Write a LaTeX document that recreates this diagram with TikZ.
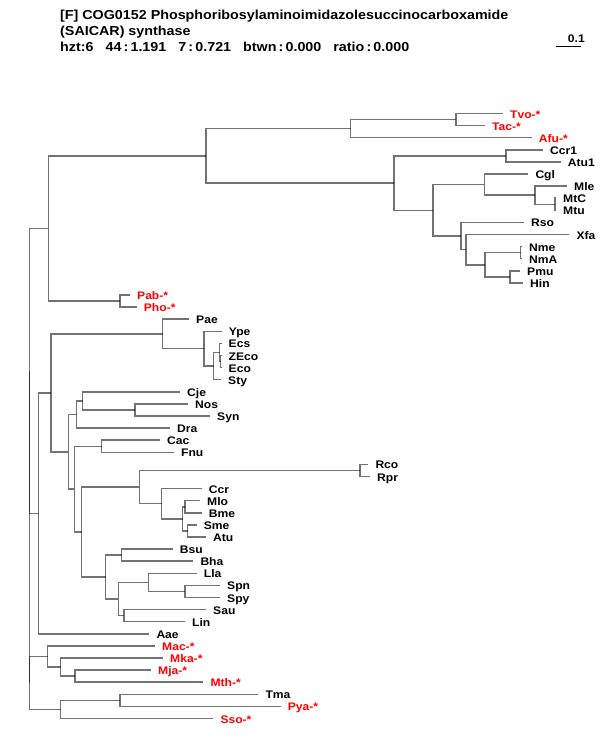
\documentclass[tikz,border=0pt]{standalone}
\usepackage{fontspec}
\setmainfont{Liberation Sans}
\newfontfamily\treefont[FakeStretch=1.1]{Liberation Sans}
\usepackage{xcolor}
\usepackage{tikz}
\usetikzlibrary{
	positioning,						% Relative positioning
	calc								% Midpoints of the clades
}
\definecolor{archaea}{rgb}{1.0, 0.0, 0.0}

% Inner node of the tree: name, x position, upper child, lower child
\newcommand{\clade}[4]{
	\coordinate (mid#1) at ($(#3)!0.5!(#4)$);
	\coordinate (#1) at (#2,0 |- mid#1);
	\draw[branch] (#1) |- (#3);
	\draw[branch] (#1) |- (#4);
}

\begin{document}
\begin{tikzpicture}[x=1pt, y=-1pt]
		\tikzstyle{branch} = [draw=black, draw opacity=0.55, line width=1.5pt]
		\tikzstyle{taxon} = [font=\treefont\bfseries\fontsize{11}{13}\selectfont, inner sep=0pt, anchor=base west]
		\tikzstyle{header} = [font=\treefont\bfseries\fontsize{13}{15}\selectfont, inner sep=0pt, anchor=base west]
		
		\useasboundingbox (0,0) rectangle (600,750);
		
		% Header
		\node[header] at (60,19) (titleOne) {[F] COG0152 Phosphoribosylaminoimidazolesuccinocarboxamide};
		\node[header] at (60,35) (titleTwo) {(SAICAR) synthase};
		\node[header] at (60,51) (titleThree) {hzt:6\hspace{12pt}44\,:\,1.191\hspace{12pt}7\,:\,0.721\hspace{12pt}btwn\,:\,0.000\hspace{12pt}ratio\,:\,0.000};
		%% Scale bar
		\coordinate (scaleLeft) at (556,46);
		\coordinate (scaleRight) at (581,46);
		\draw[line width=1pt] (scaleLeft) -- (scaleRight);
		\node[taxon, anchor=base east] at (585,42) (scaleLabel) {0.1};
		
		% Leaves
		%% Tips and labels
		\foreach \idx/\taxName/\taxLabel/\tipX/\taxCol in {
			0/Tvo/Tvo-*/503/archaea, 1/Tac/Tac-*/485/archaea, 2/Afu/Afu-*/531.7/archaea,
			3/Ccr1/Ccr1/543/black, 4/Atu1/Atu1/560.7/black, 5/Cgl/Cgl/528.3/black,
			6/Mle/Mle/567/black, 7/MtC/MtC/556/black, 8/Mtu/Mtu/556/black,
			9/Rso/Rso/524/black, 10/Xfa/Xfa/569.3/black, 11/Nme/Nme/522/black,
			12/NmA/NmA/522/black, 13/Pmu/Pmu/520/black, 14/Hin/Hin/523/black,
			15/Pab/Pab-*/130/archaea, 16/Pho/Pho-*/136.7/archaea, 17/Pae/Pae/189/black,
			18/Ype/Ype/221.7/black, 19/Ecs/Ecs/221.5/black, 20/ZEco/ZEco/221.5/black,
			21/Eco/Eco/221.5/black, 22/Sty/Sty/221/black, 23/Cje/Cje/180/black,
			24/Nos/Nos/188/black, 25/Syn/Syn/210/black, 26/Dra/Dra/170/black,
			27/Cac/Cac/160/black, 28/Fnu/Fnu/174/black, 29/Rco/Rco/368.3/black,
			30/Rpr/Rpr/370/black, 31/Ccr/Ccr/201.7/black, 32/Mlo/Mlo/200/black,
			33/Bme/Bme/201.7/black, 34/Sme/Sme/196.7/black, 35/Atu/Atu/206/black,
			36/Bsu/Bsu/172.7/black, 37/Bha/Bha/193.3/black, 38/Lla/Lla/196.7/black,
			39/Spn/Spn/220/black, 40/Spy/Spy/220/black, 41/Sau/Sau/206/black,
			42/Lin/Lin/185/black, 43/Aae/Aae/149.3/black, 44/Mac/Mac-*/155/archaea,
			45/Mka/Mka-*/163/archaea, 46/Mja/Mja-*/151/archaea, 47/Mth/Mth-*/203.3/archaea,
			48/Tma/Tma/258.3/black, 49/Pya/Pya-*/280.7/archaea, 50/Sso/Sso-*/213.3/archaea}{
			\coordinate (tip\taxName) at (\tipX, {113.5 + 12.1*\idx});
			\node[taxon, text=\taxCol] at ($(tip\taxName) + (7,4.5)$) (leaf\taxName) {\taxLabel};
		}
		
		% Upper clade
		\clade{cTvoTac}{456}{tipTvo}{tipTac}
		\clade{cTherm}{350.7}{cTvoTac}{tipAfu}
		\clade{cCcrAtu}{506}{tipCcr1}{tipAtu1}
		\clade{cMtb}{555}{tipMtC}{tipMtu}
		\clade{cMle}{535}{tipMle}{cMtb}
		\clade{cActino}{484.3}{tipCgl}{cMle}
		\clade{cNei}{520.7}{tipNme}{tipNmA}
		\clade{cPast}{510}{tipPmu}{tipHin}
		\clade{cNeiPast}{485}{cNei}{cPast}
		\clade{cXfa}{466}{tipXfa}{cNeiPast}
		\clade{cRso}{461}{tipRso}{cXfa}
		\clade{cBactA}{433}{cActino}{cRso}
		\clade{cBactB}{394}{cCcrAtu}{cBactA}
		\clade{cUpper}{206}{cTherm}{cBactB}
		\clade{cPyro}{120}{tipPab}{tipPho}
		\clade{cTop}{48.3}{cUpper}{cPyro}
		
		% Middle clade
		%% Gamma proteobacteria
		\clade{cEco}{220.5}{tipZEco}{tipEco}
		\clade{cEnt}{219.5}{tipEcs}{cEco}
		\clade{cSty}{213.7}{cEnt}{tipSty}
		\clade{cYpe}{204}{tipYpe}{cSty}
		\clade{cGamma}{162.7}{tipPae}{cYpe}
		%% Cyanobacteria and Dra
		\clade{cCyano}{135}{tipNos}{tipSyn}
		\clade{cCje}{82.7}{tipCje}{cCyano}
		\clade{cDra}{76.7}{cCje}{tipDra}
		\clade{cCacFnu}{101.7}{tipCac}{tipFnu}
		%% Alpha proteobacteria
		\clade{cRick}{360}{tipRco}{tipRpr}
		\clade{cMloBme}{185}{tipMlo}{tipBme}
		\clade{cSmeAtu}{187.7}{tipSme}{tipAtu}
		\clade{cRhizo}{182.7}{cMloBme}{cSmeAtu}
		\clade{cCcr}{161.7}{tipCcr}{cRhizo}
		\clade{cAlpha}{139.3}{cRick}{cCcr}
		%% Firmicutes
		\clade{cBacil}{121.7}{tipBsu}{tipBha}
		\clade{cStrep}{185}{tipSpn}{tipSpy}
		\clade{cLla}{148.3}{tipLla}{cStrep}
		\clade{cSauLin}{124}{tipSau}{tipLin}
		\clade{cLacto}{118.3}{cLla}{cSauLin}
		\clade{cFirm}{105.7}{cBacil}{cLacto}
		%% Joining
		\clade{cLowGC}{81.7}{cAlpha}{cFirm}
		\clade{cMid}{74.3}{cCacFnu}{cLowGC}
		\clade{cBact}{68.3}{cDra}{cMid}
		\clade{cProteo}{51}{cGamma}{cBact}
		\clade{cAae}{38.7}{cProteo}{tipAae}
		
		% Lower clade
		\clade{cMjaMth}{75}{tipMja}{tipMth}
		\clade{cMka}{60.7}{tipMka}{cMjaMth}
		\clade{cMeth}{47.7}{tipMac}{cMka}
		\clade{cTmaPya}{120}{tipTma}{tipPya}
		\clade{cSso}{60.7}{cTmaPya}{tipSso}
		
		% Root
		\clade{cLower}{29.7}{cMeth}{cSso}
		\clade{cMain}{29.7}{cTop}{cAae}
		\clade{root}{29.7}{cMain}{cLower}
	\end{tikzpicture}
\end{document}
